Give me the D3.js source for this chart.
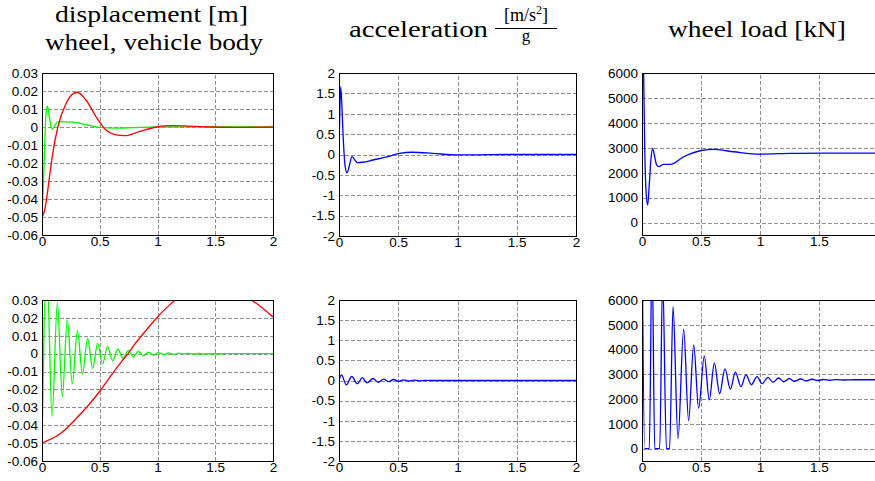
<!DOCTYPE html>
<html><head><meta charset="utf-8">
<script src="https://cdn.jsdelivr.net/npm/d3@7"></script>
<style>
body{margin:0;background:#fff}
svg{display:block}
.tick text{font-family:"Liberation Sans",Arial,sans-serif;font-size:13.5px;fill:#000}
.grid line{stroke:#8f8f8f;stroke-width:1;stroke-dasharray:4,2;shape-rendering:crispEdges}
.grid .domain{display:none}
.lab .domain{display:none}
.lab line{display:none}
.title{font-family:"Liberation Serif","Times New Roman",serif;fill:#000}
</style>
</head><body>
<svg id="c" width="875" height="481"></svg>
<script>
// ---------- data ----------
const timeTicks = [0, 0.5, 1, 1.5, 2];
const dispTicks = [-0.06, -0.05, -0.04, -0.03, -0.02, -0.01, 0, 0.01, 0.02, 0.03];
const accTicks = [-2, -1.5, -1, -0.5, 0, 0.5, 1, 1.5, 2];
const loadTicks = [0, 1000, 2000, 3000, 4000, 5000, 6000];

// top row (damped suspension)
const topWheel = [[0,-0.05],[0.01,-0.035],[0.02,-0.016],[0.03,0.002],[0.04,0.0105],[0.048,0.0114],[0.06,0.007],[0.075,0.001],[0.089,-0.0011],[0.11,0.0008],[0.14,0.003],[0.2,0.0029],[0.29,0.0025],[0.4,0.001],[0.5,-0.0002],[0.62,-0.0006],[0.8,-0.0003],[1.0,0],[1.2,0.0001],[1.5,0],[2,0]];
const topBody = [[0,-0.05],[0.015,-0.048],[0.035,-0.042],[0.064,-0.028],[0.093,-0.0146],[0.137,0],[0.209,0.0132],[0.255,0.0178],[0.304,0.0193],[0.381,0.015],[0.468,0.0057],[0.554,-0.0017],[0.63,-0.0042],[0.72,-0.0048],[0.84,-0.0026],[0.99,0],[1.12,0.0008],[1.22,0.0006],[1.48,0],[1.7,-0.0002],[2,0]];
const topAcc = [[0,0],[0.005,0.8],[0.014,1.66],[0.022,1.35],[0.035,0.45],[0.05,-0.25],[0.0675,-0.45],[0.085,-0.3],[0.11,-0.05],[0.13,-0.12],[0.155,-0.2],[0.2,-0.19],[0.287,-0.135],[0.43,-0.04],[0.51,0.03],[0.62,0.055],[0.79,0.03],[0.99,-0.01],[1.13,-0.01],[1.41,0],[2,0]];
const topLoad = [[0,12000],[0.014,6000],[0.023,3000],[0.035,1200],[0.048,707],[0.06,1400],[0.075,2500],[0.09,2973],[0.105,2700],[0.125,2300],[0.141,2240],[0.184,2333],[0.24,2333],[0.353,2640],[0.494,2880],[0.607,2933],[0.777,2840],[1.0,2747],[1.257,2773],[1.54,2787],[2,2787]];

// bottom row (weakly damped suspension)
const botWheel = [[0,-0.05],[0.02,0.02],[0.045,0.042],[0.087,-0.035],[0.133,0.0285],[0.176,-0.024],[0.219,0.0192],[0.262,-0.0169],[0.307,0.0129],[0.35,-0.0115],[0.395,0.0086],[0.438,-0.0082],[0.482,0.0058],[0.525,-0.0056],[0.568,0.0039],[0.612,-0.0039],[0.658,0.0026],[0.70,-0.0027],[0.748,0.0017],[0.79,-0.0018],[0.835,0.0012],[0.878,-0.0012],[0.922,0.0008],[0.965,-0.0008],[1.009,0.00055],[1.052,-0.00055],[1.096,0.0004],[1.14,-0.0004],[1.183,0.00026],[1.227,-0.00026],[1.27,0.00018],[1.314,-0.00018],[1.36,0.0001],[1.4,-0.0001],[1.6,0],[2,0]];
const botBody = [[0,-0.05],[0.05,-0.0485],[0.1,-0.047],[0.15,-0.045],[0.2,-0.0425],[0.3,-0.036],[0.4,-0.029],[0.5,-0.021],[0.6,-0.012],[0.7,-0.0035],[0.75,0.0005],[0.8,0.005],[0.9,0.013],[1.0,0.0205],[1.1,0.027],[1.2,0.032],[1.3,0.035],[1.45,0.037],[1.6,0.036],[1.7,0.034],[1.8,0.0305],[1.9,0.026],[2.0,0.0205]];
const botAcc = [[0,0],[0.02,0.14],[0.062,-0.11],[0.107,0.1],[0.155,-0.08],[0.197,0.07],[0.236,-0.06],[0.287,0.05],[0.33,-0.045],[0.377,0.035],[0.42,-0.03],[0.46,0.025],[0.5,-0.02],[0.545,0.016],[0.59,-0.012],[0.635,0.01],[0.68,-0.007],[0.72,0.005],[0.8,0],[2,0]];
const botLoad = [[0,9000],[0.023,0],[0.062,0],[0.085,8000],[0.108,0],[0.15,0],[0.175,7000],[0.207,0],[0.234,0],[0.263,5730],[0.305,400],[0.353,4820],[0.395,1130],[0.438,4190],[0.48,1640],[0.528,3745],[0.57,1970],[0.613,3450],[0.658,2215],[0.703,3220],[0.749,2400],[0.791,3090],[0.839,2500],[0.881,2980],[0.927,2580],[0.975,2910],[1.017,2620],[1.068,2880],[1.11,2680],[1.158,2850],[1.2,2700],[1.249,2830],[1.291,2720],[1.347,2810],[1.39,2730],[1.44,2800],[1.489,2750],[1.54,2790],[1.59,2760],[1.65,2785],[1.72,2770],[1.8,2780],[2.0,2780]];

// ---------- drawing ----------
const svg = d3.select('#c');
const RED = '#ff0000', GREEN = '#00ff00', BLUE = '#0000ff';

const panels = [
  {x0:42, x1:273, y0:73, y1:235, yDom:[-0.06,0.03], yTicks:dispTicks, series:[[topWheel,GREEN],[topBody,RED]]},
  {x0:339, x1:576, y0:73, y1:236, yDom:[-2,2], yTicks:accTicks, series:[[topAcc,BLUE]]},
  {x0:642, x1:878, y0:73, y1:235, yDom:[-500,6000], yTicks:loadTicks, series:[[topLoad,BLUE]]},
  {x0:42, x1:273, y0:300, y1:461, yDom:[-0.06,0.03], yTicks:dispTicks, series:[[botWheel,GREEN],[botBody,RED]]},
  {x0:339, x1:576, y0:300, y1:461, yDom:[-2,2], yTicks:accTicks, series:[[botAcc,BLUE]]},
  {x0:642, x1:878, y0:300, y1:461, yDom:[-500,6000], yTicks:loadTicks, series:[[botLoad,BLUE]]}
];

const fmt = v => String(+v.toFixed(4));

panels.forEach((p, i) => {
  const x = d3.scaleLinear().domain([0,2]).range([p.x0, p.x1]);
  const y = d3.scaleLinear().domain(p.yDom).range([p.y1, p.y0]);
  const w = p.x1 - p.x0, h = p.y1 - p.y0;
  const g = svg.append('g');

  // grid
  g.append('g').attr('class','grid').attr('transform',`translate(${p.x0},0)`)
    .call(d3.axisLeft(y).tickValues(p.yTicks).tickSize(-w).tickFormat(''));
  g.append('g').attr('class','grid').attr('transform',`translate(0,${p.y1})`)
    .call(d3.axisBottom(x).tickValues(timeTicks).tickSize(-h).tickFormat(''));

  // labels
  g.append('g').attr('class','lab').attr('transform',`translate(${p.x0},0)`)
    .call(d3.axisLeft(y).tickValues(p.yTicks).tickSize(0).tickPadding(4).tickFormat(fmt));
  g.append('g').attr('class','lab').attr('transform',`translate(0,${p.y1})`)
    .call(d3.axisBottom(x).tickValues(timeTicks).tickSize(0).tickPadding(1).tickFormat(fmt));

  // clip
  const cid = 'clip' + i;
  svg.append('clipPath').attr('id', cid).append('rect')
    .attr('x', p.x0).attr('y', p.y0).attr('width', w).attr('height', h);

  const line = d3.line().x(d => x(d[0])).y(d => y(d[1])).curve(d3.curveMonotoneX);
  const lg = g.append('g').attr('clip-path', `url(#${cid})`);
  p.series.forEach(([data, col]) => {
    lg.append('path').attr('d', line(data)).attr('fill','none')
      .attr('stroke', col).attr('stroke-width', 1.3).attr('stroke-linejoin','round');
  });

  // frame
  g.append('rect').attr('x', p.x0 + 0.5).attr('y', p.y0 + 0.5).attr('width', w).attr('height', h)
    .attr('fill','none').attr('stroke','#000').attr('stroke-width',1).attr('shape-rendering','crispEdges');
});

// ---------- titles ----------
function title(txt, x, yb, len, size) {
  svg.append('text').attr('class','title').attr('x', x).attr('y', yb)
    .attr('font-size', size).attr('textLength', len).attr('lengthAdjust','spacingAndGlyphs').text(txt);
}
title('displacement [m]', 55, 22, 193, 24);
title('wheel, vehicle body', 45, 50, 218, 24);
title('acceleration', 349, 37, 139, 24);
title('wheel load [kN]', 668, 37, 178, 24);

// fraction [m/s^2] / g
const fr = svg.append('text').attr('class','title').attr('x', 526).attr('y', 21)
  .attr('font-size', 18).attr('text-anchor','middle');
fr.append('tspan').text('[m/s');
fr.append('tspan').attr('dy', -7).attr('font-size', 12).text('2');
fr.append('tspan').attr('dy', 7).text(']');
svg.append('line').attr('x1', 495).attr('x2', 557).attr('y1', 28.5).attr('y2', 28.5)
  .attr('stroke', '#000').attr('stroke-width', 1);
svg.append('text').attr('class','title').attr('x', 526).attr('y', 41).attr('font-size', 17)
  .attr('text-anchor','middle').text('g');
</script>
</body></html>
